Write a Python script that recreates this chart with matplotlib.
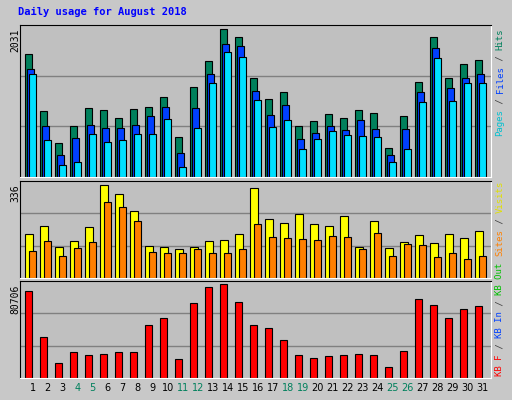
import matplotlib
matplotlib.use('agg')
import matplotlib.pyplot as plt
import numpy as np

days = list(range(1, 32))
weekends = [4, 5, 11, 12, 18, 19, 25, 26]
hits = [1686, 914, 473, 708, 956, 928, 818, 942, 970, 1107, 556, 1245, 1590, 2031, 1921, 1356,
        1080, 1176, 708, 777, 873, 818, 928, 887, 404, 845, 1314, 1921, 1369, 1549, 1617]
files = [1480, 708, 308, 542, 721, 680, 680, 721, 845, 970, 335, 956, 1411, 1824, 1797, 1190,
         859, 997, 528, 611, 708, 652, 790, 666, 308, 666, 1163, 1769, 1231, 1369, 1411]
pages = [1411, 515, 170, 211, 597, 487, 515, 597, 597, 804, 142, 680, 1287, 1714, 1645, 1066,
         694, 790, 391, 528, 639, 584, 570, 556, 211, 391, 1038, 1631, 1052, 1287, 1287]
visits = [158, 187, 110, 132, 183, 336, 303, 241, 114, 110, 103, 110, 132, 136, 158, 325,
          212, 198, 230, 194, 187, 223, 110, 205, 107, 129, 154, 125, 158, 143, 169]
sites = [99, 132, 81, 107, 129, 274, 256, 205, 92, 89, 89, 103, 89, 89, 103, 194,
         147, 143, 139, 136, 150, 147, 103, 161, 81, 121, 118, 74, 89, 70, 81]
kbytes = [75400, 35640, 12660, 22380, 19730, 20620, 22380, 22380, 45360, 51540, 16200, 64790,
          78050, 80706, 65680, 45360, 42700, 32990, 19730, 17080, 18850, 19730, 20620, 19730,
          9130, 23270, 68330, 63030, 51540, 59490, 62140]

BG = '#c0c0c0'
fig = plt.figure(figsize=(5.12, 4.0), dpi=100)
fig.patch.set_facecolor('#c8c8c8')
W, H = 512.0, 400.0

def make_ax(top, bottom):
    ax = fig.add_axes([20 / W, (H - bottom) / H, 471 / W, (bottom - top) / H])
    ax.set_facecolor(BG)
    ax.set_xlim(0, 471 / 15.0)
    for fr in (1 / 3.0, 2 / 3.0):
        ax.plot([0, 1], [fr, fr], color='#808080', lw=1, transform=ax.transAxes, zorder=0)
    ax.set_xticks([])
    ax.set_yticks([])
    for s in ax.spines.values():
        s.set_color('black')
    ax.spines['bottom'].set_color('white')
    ax.spines['right'].set_color('white')
    return ax

x = np.arange(31) + 0.35
bw = 0.47
kw = dict(edgecolor='black', linewidth=0.8, align='edge')

ax1 = make_ax(25, 177)
ax1.bar(x, hits, bw, color='#00805c', **kw)
ax1.bar(x + 0.133, files, bw, color='#0040ff', **kw)
ax1.bar(x + 0.267, pages, bw, color='#00e0ff', **kw)
ax1.set_ylim(0, max(hits) * 1.03)

ax2 = make_ax(181, 278)
ax2.bar(x, visits, 0.53, color='#ffff00', **kw)
ax2.bar(x + 0.267, sites, bw, color='#ff8000', **kw)
ax2.set_ylim(0, max(visits) * 1.04)

ax3 = make_ax(281, 378)
ax3.bar(x, kbytes, bw, color='#ff0000', **kw)
ax3.set_ylim(0, max(kbytes) * 1.036)

# max labels on the left
for val, ytop in ((max(hits), 29), (max(visits), 184), (max(kbytes), 285)):
    fig.text(15 / W, (H - ytop) / H, str(val), rotation=90, ha='center', va='top',
             fontsize=7, family='DejaVu Sans Mono')

# day labels
for d in days:
    c = '#00805c' if d in weekends else 'black'
    fig.text((20 + (d - 1 + 0.85) * 15) / W, (H - 388) / H, str(d), ha='center', va='center',
             fontsize=7, color=c, family='DejaVu Sans')

fig.text(18 / W, (H - 12) / H, 'Daily usage for August 2018', color='#0000ff',
         fontsize=7.5, fontweight='bold', family='DejaVu Sans Mono', va='center')

# right side legends, built from bottom upward
pitch = 5.4
def side(ybot, parts):
    y = ybot
    for txt, col in parts:
        fig.text(500 / W, (H - y) / H, txt, rotation=90, ha='center', va='bottom',
                 fontsize=6.5, color=col, family='DejaVu Sans Mono')
        y -= pitch * len(txt)

sep = '#404040'
side(136, [('Pages', '#00c0d0'), (' / ', sep), ('Files', '#0040ff'), (' / ', sep), ('Hits', '#00805c')])
side(256, [('Sites', '#ff8000'), (' / ', sep), ('Visits', '#e0e000')])
side(376, [('KB F', '#ff0000'), (' / ', sep), ('KB In', '#0040ff'), (' / ', sep), ('KB Out', '#00c000')])

plt.savefig('out.png', dpi=100, facecolor=fig.get_facecolor())
